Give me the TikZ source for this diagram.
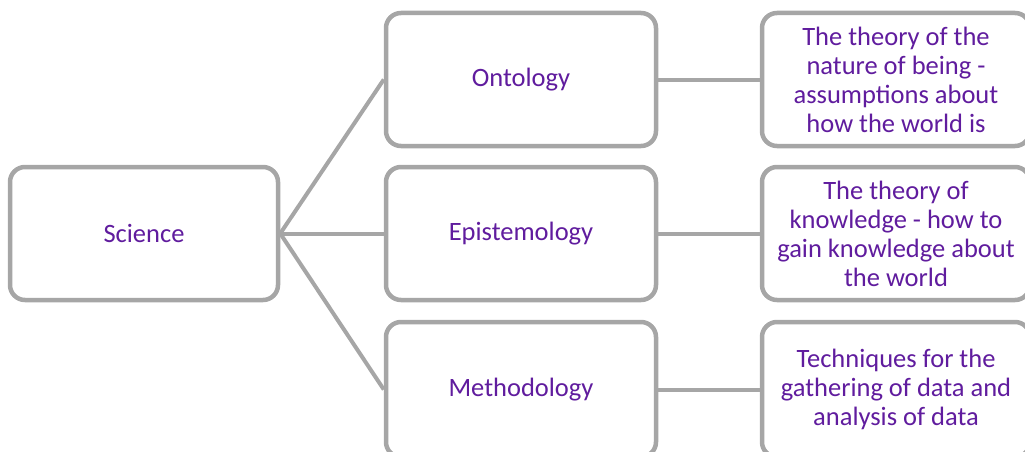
\documentclass[tikz,border=0pt]{standalone}
\usepackage{fontspec}
\setmainfont{Carlito}
\definecolor{boxgray}{RGB}{166,166,166}
\definecolor{txtpurple}{RGB}{96,28,158}
\begin{document}
\begin{tikzpicture}[x=1pt,y=-1pt,
  box/.style={draw=boxgray, line width=4.5pt, rounded corners=15pt, fill=white,
    minimum width=268pt, minimum height=133pt, text=txtpurple, align=center,
    font=\fontsize{26.5}{29}\selectfont, inner sep=0pt},
  link/.style={draw=boxgray, line width=4pt}]
\useasboundingbox (0,0) rectangle (1025,452);
\clip (0,0) rectangle (1025,452);
\node[box] (sci) at (144,233.5) {Science};
\node[box, minimum width=270pt] (ont) at (521,79.5) {Ontology};
\node[box, minimum width=270pt] (epi) at (521,233.5) {Epistemology};
\node[box, minimum width=270pt, minimum height=135pt] (met) at (521,389.5) {Methodology};
\node[box] (ontd) at (896,79.5) {The theory of the\\nature of being -\\assumptions about\\how the world is};
\node[box] (epid) at (896,233.5) {The theory of\\knowledge - how to\\gain knowledge about\\the world};
\node[box, minimum height=135pt] (metd) at (896,389.5) {Techniques for the\\gathering of data and\\analysis of data};
\draw[link] (sci.east) -- (ont.west);
\draw[link] (sci.east) -- (epi.west);
\draw[link] (sci.east) -- (met.west);
\draw[link] (ont.east) -- (ontd.west);
\draw[link] (epi.east) -- (epid.west);
\draw[link] (met.east) -- (metd.west);
\end{tikzpicture}
\end{document}
